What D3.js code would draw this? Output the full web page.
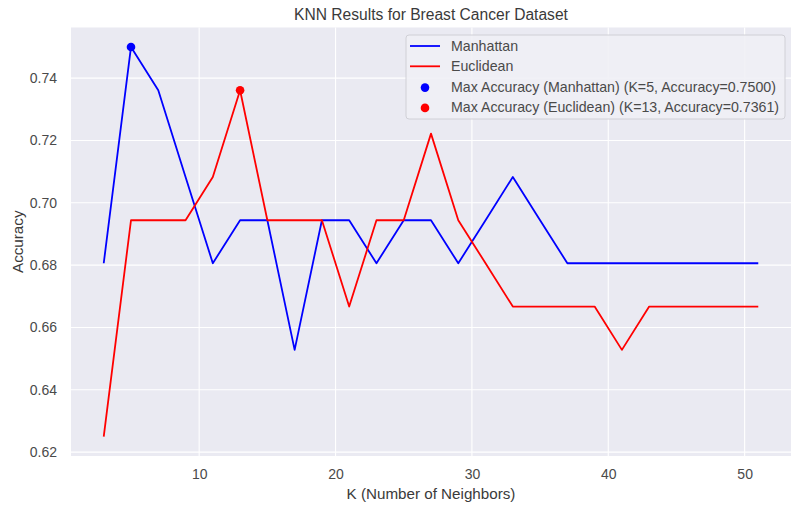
<!DOCTYPE html>
<html>
<head>
<meta charset="utf-8">
<script src="https://cdn.jsdelivr.net/npm/d3@7"></script>
<style>
    body { margin: 0; background: #fff; }
    svg { font-family: "Liberation Sans", Arial, sans-serif; }
    .grid-lines line { stroke: #fff; stroke-width: 1.1; }
    .tick-label { fill: #4a4a4a; font-size: 14px; }
    .axis-title { fill: #3a3a3a; font-size: 15.2px; }
    .title-text { fill: #3a3a3a; font-size: 15.6px; }
    .legend-text { fill: #4a4a4a; font-size: 14.2px; }
</style>
</head>
<body>
<svg id="svg"></svg>
<script>
// K values (odd neighbours 3..51)
const kValues = [3, 5, 7, 9, 11, 13, 15, 17, 19, 21, 23, 25, 27, 29, 31, 33, 35, 37, 39, 41, 43, 45, 47, 49, 51];

const manhattanAcc = [0.6806, 0.7500, 0.7361, 0.7083, 0.6806, 0.6944, 0.6944, 0.6528, 0.6944, 0.6944,
    0.6806, 0.6944, 0.6944, 0.6806, 0.6944, 0.7083, 0.6944, 0.6806, 0.6806, 0.6806,
    0.6806, 0.6806, 0.6806, 0.6806, 0.6806];

const euclideanAcc = [0.6250, 0.6944, 0.6944, 0.6944, 0.7083, 0.7361, 0.6944, 0.6944, 0.6944, 0.6667,
    0.6944, 0.6944, 0.7222, 0.6944, 0.6806, 0.6667, 0.6667, 0.6667, 0.6667, 0.6528,
    0.6667, 0.6667, 0.6667, 0.6667, 0.6667];

const xTicks = [10, 20, 30, 40, 50];
const yTicks = [0.62, 0.64, 0.66, 0.68, 0.70, 0.72, 0.74];

const seriesNames = ['Manhattan', 'Euclidean'];
const seriesColors = ['blue', 'red'];

const width = 791, height = 505;
const margin = {top: 27.5, left: 71, right: 0, bottom: 49};
const innerW = width - margin.left - margin.right;
const innerH = height - margin.top - margin.bottom;

const svg = d3.select('#svg')
    .attr('width', width)
    .attr('height', height);

const mainGroup = svg.append('g')
    .attr('transform', 'translate(' + margin.left + ',' + margin.top + ')');

// matplotlib-style 5% padding on both axes
const xExt = d3.extent(kValues);
const xPad = (xExt[1] - xExt[0]) * 0.05;
const xScale = d3.scaleLinear()
    .domain([xExt[0] - xPad, xExt[1] + xPad])
    .range([0, innerW]);

const allAcc = manhattanAcc.concat(euclideanAcc);
const yExt = d3.extent(allAcc);
const yPad = (yExt[1] - yExt[0]) * 0.05;
const yScale = d3.scaleLinear()
    .domain([yExt[0] - yPad, yExt[1] + yPad])
    .range([innerH, 0]);

mainGroup.append('rect')
    .attr('width', innerW)
    .attr('height', innerH)
    .attr('fill', '#EAEAF2');

// grid
const grid = mainGroup.append('g').attr('class', 'grid-lines');
grid.selectAll('.gx').data(xTicks).enter().append('line')
    .attr('x1', d => xScale(d)).attr('x2', d => xScale(d))
    .attr('y1', 0).attr('y2', innerH);
grid.selectAll('.gy').data(yTicks).enter().append('line')
    .attr('x1', 0).attr('x2', innerW)
    .attr('y1', d => yScale(d)).attr('y2', d => yScale(d));

// axes (no domain, no tick marks - seaborn darkgrid)
const xAxis = d3.axisBottom(xScale).tickValues(xTicks).tickSize(0).tickPadding(0).tickFormat(d3.format('d'));
const domXAxis = mainGroup.append('g')
    .attr('transform', 'translate(0,' + innerH + ')')
    .call(xAxis);
domXAxis.select('.domain').remove();
domXAxis.selectAll('text')
    .attr('class', 'tick-label')
    .attr('y', 13)
    .attr('dy', '0.71em')
    .attr('fill', null);

const yAxis = d3.axisLeft(yScale).tickValues(yTicks).tickSize(0).tickPadding(0).tickFormat(d3.format('.2f'));
const domYAxis = mainGroup.append('g').call(yAxis);
domYAxis.select('.domain').remove();
domYAxis.selectAll('text')
    .attr('class', 'tick-label')
    .attr('x', -14)
    .attr('fill', null);

// lines
const line = d3.line()
    .x(d => xScale(d[0]))
    .y(d => yScale(d[1]));

[manhattanAcc, euclideanAcc].forEach((acc, i) => {
    mainGroup.append('path')
        .datum(kValues.map((k, j) => [k, acc[j]]))
        .attr('d', line)
        .attr('fill', 'none')
        .attr('stroke', seriesColors[i])
        .attr('stroke-width', 1.8)
        .attr('stroke-linejoin', 'round');
});

// max points
const maxPoints = [manhattanAcc, euclideanAcc].map((acc, i) => {
    const idx = d3.maxIndex(acc);
    return {k: kValues[idx], acc: acc[idx], color: seriesColors[i], name: seriesNames[i]};
});

mainGroup.selectAll('.max-dot').data(maxPoints).enter().append('circle')
    .attr('cx', d => xScale(d.k))
    .attr('cy', d => yScale(d.acc))
    .attr('r', 4.3)
    .attr('fill', d => d.color);

// legend
const legendItems = [
    {type: 'line', color: seriesColors[0], label: seriesNames[0]},
    {type: 'line', color: seriesColors[1], label: seriesNames[1]},
    {type: 'dot', color: maxPoints[0].color, label: 'Max Accuracy (' + maxPoints[0].name + ') (K=' + maxPoints[0].k + ', Accuracy=' + maxPoints[0].acc.toFixed(4) + ')'},
    {type: 'dot', color: maxPoints[1].color, label: 'Max Accuracy (' + maxPoints[1].name + ') (K=' + maxPoints[1].k + ', Accuracy=' + maxPoints[1].acc.toFixed(4) + ')'}
];

const legend = svg.append('g').attr('transform', 'translate(406,35)');
legend.append('rect')
    .attr('width', 379)
    .attr('height', 84)
    .attr('rx', 3)
    .attr('fill', '#EFEFF5')
    .attr('fill-opacity', 0.9)
    .attr('stroke', '#D0D0D6');

const rows = legend.selectAll('.row').data(legendItems).enter().append('g')
    .attr('transform', (d, i) => 'translate(0,' + (11 + i * 20.3) + ')');
rows.filter(d => d.type === 'line').append('line')
    .attr('x1', 4).attr('x2', 34).attr('y1', 0).attr('y2', 0)
    .attr('stroke', d => d.color).attr('stroke-width', 1.8);
rows.filter(d => d.type === 'dot').append('circle')
    .attr('cx', 19).attr('cy', 1).attr('r', 4.3)
    .attr('fill', d => d.color);
rows.append('text')
    .attr('class', 'legend-text')
    .attr('x', 45)
    .attr('dy', '0.35em')
    .text(d => d.label);

// titles
svg.append('text')
    .attr('class', 'title-text')
    .attr('x', margin.left + innerW / 2)
    .attr('y', 20)
    .attr('text-anchor', 'middle')
    .text('KNN Results for Breast Cancer Dataset');

svg.append('text')
    .attr('class', 'axis-title')
    .attr('x', margin.left + innerW / 2)
    .attr('y', 499)
    .attr('text-anchor', 'middle')
    .text('K (Number of Neighbors)');

svg.append('text')
    .attr('class', 'axis-title')
    .attr('transform', 'translate(23,' + (margin.top + innerH / 2) + ') rotate(-90)')
    .attr('text-anchor', 'middle')
    .text('Accuracy');
</script>
</body>
</html>
